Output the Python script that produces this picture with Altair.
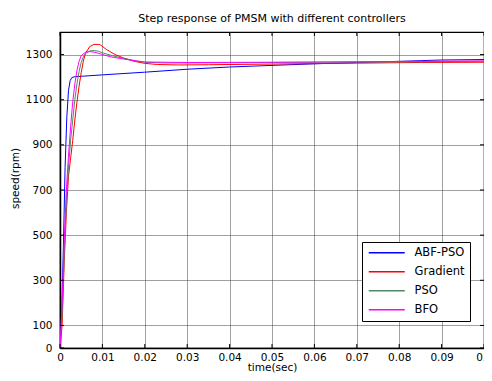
import altair as alt
import pandas as pd

# ---- data ----
series_names = ["ABF-PSO", "Gradient", "PSO", "BFO"]
series_colors = ["#0000FF", "#FF0000", "#4F8A62", "#FF00FF"]

t_abf = [0, 0.0004, 0.0008, 0.0012, 0.0016, 0.002, 0.0024, 0.0028, 0.0035,
         0.01, 0.02, 0.03, 0.04, 0.05, 0.06, 0.07, 0.08, 0.09, 0.1]
v_abf = [0, 150, 450, 800, 1020, 1140, 1185, 1198, 1202,
         1210, 1222, 1235, 1245, 1252, 1259, 1265, 1270, 1276, 1278]

t_grad = [0, 0.0005, 0.001, 0.0015, 0.002, 0.0025, 0.003, 0.0035, 0.004, 0.0045,
          0.005, 0.0055, 0.006, 0.007, 0.008, 0.009, 0.0095, 0.011, 0.013, 0.015,
          0.0175, 0.02, 0.023, 0.028, 0.035, 0.05, 0.07, 0.085, 0.1]
v_grad = [0, 100, 380, 600, 760, 840, 920, 1010, 1090, 1160,
          1220, 1270, 1305, 1335, 1345, 1345, 1343, 1322, 1300, 1285,
          1270, 1261, 1256, 1254, 1255, 1258, 1262, 1265, 1266]

t_pso = [0, 0.0005, 0.001, 0.0015, 0.002, 0.0025, 0.003, 0.0035, 0.004, 0.0045,
         0.005, 0.0055, 0.006, 0.007, 0.008, 0.009, 0.01, 0.012, 0.015, 0.018,
         0.02, 0.025, 0.03, 0.05, 0.07, 0.1]
v_pso = [0, 150, 420, 650, 800, 920, 1010, 1100, 1170, 1225,
         1265, 1290, 1305, 1316, 1318, 1315, 1308, 1297, 1283, 1272,
         1266, 1263, 1263, 1265, 1267, 1270]

t_bfo = [0, 0.0005, 0.001, 0.0015, 0.002, 0.0025, 0.003, 0.0035, 0.004, 0.0045,
         0.005, 0.006, 0.007, 0.008, 0.009, 0.01, 0.012, 0.015, 0.018, 0.02,
         0.03, 0.05, 0.07, 0.1]
v_bfo = [0, 200, 480, 700, 850, 980, 1090, 1170, 1230, 1270,
         1295, 1310, 1313, 1311, 1306, 1300, 1290, 1280, 1272, 1267,
         1265, 1266, 1268, 1272]

x_ticks = [0, 0.01, 0.02, 0.03, 0.04, 0.05, 0.06, 0.07, 0.08, 0.09, 0.1]
y_ticks = [0, 100, 300, 500, 700, 900, 1100, 1300]

title_text = "Step response of PMSM with different controllers"
x_title = "time(sec)"
y_title = "speed(rpm)"

# ---- build table ----
rows = []
for name, ts, vs in zip(series_names, [t_abf, t_grad, t_pso, t_bfo],
                        [v_abf, v_grad, v_pso, v_bfo]):
    for i, (t, v) in enumerate(zip(ts, vs)):
        rows.append({"series": name, "t": t, "v": v, "order": i})
df = pd.DataFrame(rows)
xt = pd.DataFrame({"t": x_ticks})
yt = pd.DataFrame({"v": y_ticks})

W, H = 424, 316
FONT = "DejaVu Sans"
xscale = alt.Scale(domain=[0, 0.1], nice=False, zero=False)
yscale = alt.Scale(domain=[0, 1400], nice=False)

x_axis = alt.Axis(values=x_ticks, format=".2~f", title=x_title,
                  grid=True, ticks=False, tickSize=0,
                  labelPadding=4, titlePadding=0, labelFlush=False)
y_axis = alt.Axis(values=y_ticks, format="d", title=y_title, grid=True,
                  ticks=False, tickSize=0, labelPadding=8,
                  titleX=-45, titleY=146, titleBaseline="middle",
                  titleAngle=270)

X = alt.X("t:Q", scale=xscale, axis=x_axis, title=x_title)
Y = alt.Y("v:Q", scale=yscale, axis=y_axis, title=y_title)

lines = alt.Chart(df).mark_line(strokeWidth=1, clip=True).encode(
    x=X, y=Y,
    color=alt.Color("series:N",
                    scale=alt.Scale(domain=series_names, range=series_colors),
                    sort=series_names,
                    legend=alt.Legend(title=None, orient="none",
                                      legendX=302, legendY=210,
                                      symbolType="M-1,0L8,0",
                                      symbolSize=64, symbolStrokeWidth=1.5,
                                      labelOffset=36, rowPadding=6,
                                      padding=5, strokeColor="black",
                                      fillColor="white",
                                      labelFont=FONT, labelFontSize=11.5,
                                      labelColor="black")),
    order="order:Q",
)

tick_b = alt.Chart(xt).mark_rule(color="black", strokeWidth=1).encode(
    x=X, y=alt.value(H - 4), y2=alt.value(H))
tick_t = alt.Chart(xt).mark_rule(color="black", strokeWidth=1).encode(
    x=X, y=alt.value(0), y2=alt.value(4))
tick_l = alt.Chart(yt).mark_rule(color="black", strokeWidth=1).encode(
    y=Y, x=alt.value(0), x2=alt.value(4))
tick_r = alt.Chart(yt).mark_rule(color="black", strokeWidth=1).encode(
    y=Y, x=alt.value(W - 4), x2=alt.value(W))

chart = alt.layer(lines, tick_b, tick_t, tick_l, tick_r).properties(
    width=W, height=H,
    title=alt.TitleParams(title_text, font=FONT, fontSize=11,
                          fontWeight="normal", color="black",
                          anchor="middle", offset=8),
    autosize=alt.AutoSizeParams(type="none"),
    padding={"left": 52, "top": 24, "right": 0, "bottom": 25},
    background="white",
).configure_view(
    stroke="black", strokeWidth=1.2
).configure_axis(
    labelFont=FONT, labelFontSize=10.5, labelColor="black",
    titleFont=FONT, titleFontSize=10.5, titleColor="black",
    titleFontWeight="normal",
    domainColor="black", domainWidth=1.5,
    gridColor="#404040", gridDash=[1, 1], gridOpacity=1, gridWidth=1,
)

chart.save("out.html", embed_options={"renderer": "svg", "actions": False})
